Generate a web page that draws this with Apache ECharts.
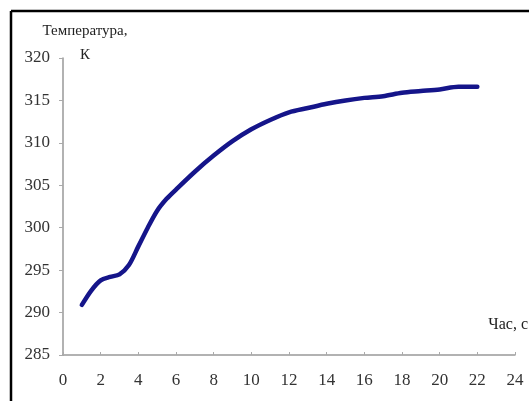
<!DOCTYPE html>
<html>
<head>
<meta charset="utf-8">
<script src="https://cdn.jsdelivr.net/npm/echarts@6/dist/echarts.min.js"></script>
<style>
  html, body { margin: 0; padding: 0; background: #fff; }
  #chart1 { width: 529px; height: 401px; }
</style>
</head>
<body>
<div id="chart1"></div>
<script>
// час, с
var times = [1, 1.5, 2, 2.5, 3, 3.5, 4, 4.5, 5, 5.5, 6, 7, 8, 9, 10, 11, 12, 13, 14, 15, 16, 17, 18, 19, 20, 21, 22];
// температура, К
var temps = [290.9, 292.6, 293.8, 294.2, 294.5, 295.6, 297.8, 300.0, 302.0, 303.4, 304.5, 306.6, 308.5, 310.2, 311.6, 312.7, 313.6, 314.1, 314.6, 315.0, 315.3, 315.5, 315.9, 316.1, 316.3, 316.6, 316.6];

var points = times.map(function (t, i) { return [t, temps[i]]; });

var serif = '"Liberation Serif", "DejaVu Serif", serif';

var option = {
    backgroundColor: '#fff',
    animation: false,
    grid: { left: 63, right: 14, top: 58, bottom: 46, containLabel: false, outerBoundsMode: 'none' },
    graphic: [
        { type: 'line', shape: { x1: 11, y1: 11, x2: 529, y2: 11 }, style: { stroke: '#000', lineWidth: 2.5 } },
        { type: 'line', shape: { x1: 11, y1: 11, x2: 11, y2: 401 }, style: { stroke: '#000', lineWidth: 2.5 } }
    ],
    xAxis: {
        type: 'value',
        min: 0, max: 24, interval: 2,
        name: 'Час, с',
        nameLocation: 'end',
        nameGap: 13,
        nameMoveOverlap: false,
        nameTextStyle: {
            fontFamily: serif, fontSize: 16, color: '#222',
            align: 'right', verticalAlign: 'bottom', padding: [0, 0, 22, 0]
        },
        axisLine: { lineStyle: { color: '#999', width: 1.5 } },
        axisTick: { inside: true, length: 3, lineStyle: { color: '#aaa' } },
        axisLabel: { fontFamily: serif, fontSize: 17, color: '#333', margin: 17 },
        splitLine: { show: false }
    },
    yAxis: {
        type: 'value',
        min: 285, max: 320, interval: 5,
        name: 'Температура,\nК',
        nameLocation: 'end',
        nameGap: -9,
        nameMoveOverlap: false,
        nameTextStyle: {
            fontFamily: serif, fontSize: 15, color: '#222', lineHeight: 24,
            align: 'center', padding: [0, 0, 0, 44]
        },
        axisLine: { show: true, lineStyle: { color: '#999', width: 1.5 } },
        axisTick: { show: true, length: 4, lineStyle: { color: '#aaa' } },
        axisLabel: { fontFamily: serif, fontSize: 17, color: '#333', margin: 13 },
        splitLine: { show: false }
    },
    series: [{
        type: 'line',
        data: points,
        smooth: 0.3,
        showSymbol: false,
        lineStyle: { color: '#15158a', width: 4.5, cap: 'round' }
    }]
};

var myChart = echarts.init(document.getElementById('chart1'));
myChart.setOption(option);
</script>
</body>
</html>
